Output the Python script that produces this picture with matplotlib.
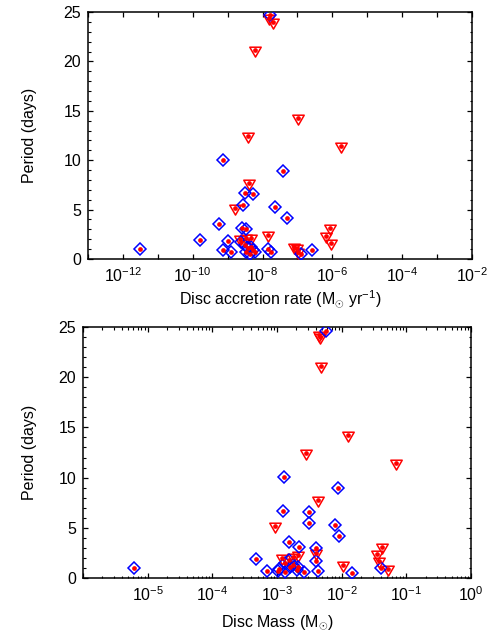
import numpy as np
import matplotlib
matplotlib.use("Agg")
import matplotlib.pyplot as plt
from matplotlib.path import Path
from matplotlib.ticker import FixedLocator, LogLocator, NullFormatter, FuncFormatter, MultipleLocator

plt.rcParams['font.family'] = ['Liberation Sans', 'DejaVu Sans']
plt.rcParams['mathtext.fontset'] = 'custom'
plt.rcParams['mathtext.rm'] = 'Liberation Sans'
plt.rcParams['mathtext.it'] = 'Liberation Sans'
plt.rcParams['mathtext.default'] = 'rm'

# ---- Top panel: disc accretion rate (log10 Msun/yr) vs period ----
acc_diam_log = [-11.52, -9.78, -9.24, -9.12, -8.98, -9.12, -8.90, -8.50, -8.26, -8.57,
                -7.65, -7.42, -7.31, -8.59, -8.48, -8.61, -8.51, -8.42, -8.32, -8.28,
                -8.23, -8.47, -8.37, -7.85, -7.77, -6.90, -6.57, -7.78]
acc_diam_P = [1.00, 1.95, 3.57, 10.03, 1.85, 0.94, 0.67, 6.66, 6.56, 5.48,
              5.25, 8.95, 4.14, 3.10, 3.03, 1.75, 1.42, 1.08, 1.25, 0.91,
              0.68, 0.74, 0.48, 0.98, 0.74, 0.47, 0.94, 24.66]
acc_tri_log = [-7.82, -7.70, -8.22, -6.98, -8.41, -5.76, -8.40, -8.78, -7.83, -6.08,
               -6.17, -6.03, -7.09, -7.01, -6.98, -8.66, -8.47, -8.32]
acc_tri_P = [24.40, 24.00, 21.13, 14.23, 12.45, 11.47, 7.74, 5.15, 2.46, 3.13,
             2.36, 1.62, 1.25, 1.08, 0.75, 2.02, 2.16, 2.09]

# ---- Bottom panel: disc mass (log10 Msun) vs period ----
mass_diam_log = [-5.21, -3.33, -3.15, -2.97, -2.89, -2.90, -2.82, -2.66, -2.50, -2.50,
                 -2.11, -2.05, -2.04, -2.40, -2.40, -2.37, -1.84, -1.39, -2.25, -2.87,
                 -2.82, -2.80, -2.75, -2.69, -2.67, -2.59, -2.87, -2.98]
mass_diam_P = [0.99, 1.92, 0.70, 0.86, 10.03, 6.66, 3.58, 3.05, 6.56, 5.50,
               5.23, 8.97, 4.14, 3.01, 1.66, 0.70, 0.50, 0.96, 24.57, 1.46,
               1.79, 1.13, 1.29, 0.80, 1.13, 0.63, 0.63, 0.73]
mass_tri_log = [-2.35, -2.33, -2.32, -1.90, -2.55, -1.16, -2.36, -3.03, -1.38, -1.46,
                -1.42, -1.98, -1.29, -2.93, -2.75, -2.67, -2.40]
mass_tri_P = [24.24, 24.00, 21.09, 14.24, 12.48, 11.42, 7.72, 5.13, 3.08, 2.42,
              1.66, 1.26, 0.89, 1.96, 2.12, 2.29, 2.46]

y_ticks = [0, 5, 10, 15, 20, 25]
acc_xlim = (1e-13, 1e-2)
acc_label_exps = [-12, -10, -8, -6, -4, -2]
mass_xlim = (1e-6, 1e0)
mass_label_exps = [-5, -4, -3, -2, -1, 0]

tri_marker = Path([(-1, 0.577), (1, 0.577), (0, -1.155), (-1, 0.577)],
                  [Path.MOVETO, Path.LINETO, Path.LINETO, Path.CLOSEPOLY])
BLUE = '#0000ff'
RED = '#ff0000'

fig = plt.figure(figsize=(5.03, 6.39), dpi=100)
ax1 = fig.add_axes([88/503, 1-259/639, (472-88)/503, (259-12)/639])
ax2 = fig.add_axes([83/503, 1-578/639, (471-83)/503, (578-327)/639])


def draw(ax, dl, dp, tl, tp):
    dx = 10.0 ** np.array(dl)
    tx = 10.0 ** np.array(tl)
    ax.plot(tx, tp, linestyle='none', marker=tri_marker, markersize=9.5,
            markerfacecolor='none', markeredgecolor=RED, markeredgewidth=1.1, zorder=3)
    ax.plot(dx, dp, linestyle='none', marker='D', markersize=6.3,
            markerfacecolor='none', markeredgecolor=BLUE, markeredgewidth=1.1, zorder=4)
    ax.plot(tx, tp, linestyle='none', marker='o', markersize=3.4,
            markerfacecolor=RED, markeredgecolor=RED, markeredgewidth=0, zorder=5)
    ax.plot(dx, dp, linestyle='none', marker='o', markersize=3.4,
            markerfacecolor=RED, markeredgecolor=RED, markeredgewidth=0, zorder=5)


def style(ax, ypad):
    ax.set_ylim(0, 25)
    ax.yaxis.set_major_locator(FixedLocator(y_ticks))
    ax.yaxis.set_minor_locator(MultipleLocator(1))
    ax.tick_params(which='both', direction='in', top=True, right=True, labelsize=11.5,
                   pad=5, color='black')
    ax.tick_params(which='major', length=3.5, width=0.9)
    ax.tick_params(which='minor', length=1.8, width=0.8)
    for s in ax.spines.values():
        s.set_linewidth(1.1)
        s.set_color('black')
    ax.set_ylabel('Period (days)', fontsize=11.5, labelpad=ypad)


def expfmt(labels):
    def f(v, pos):
        e = int(round(np.log10(v)))
        if e in labels:
            return r'$10^{%d}$' % e
        return ''
    return FuncFormatter(f)


draw(ax1, acc_diam_log, acc_diam_P, acc_tri_log, acc_tri_P)
ax1.set_xscale('log')
ax1.set_xlim(*acc_xlim)
ax1.xaxis.set_major_locator(FixedLocator([10.0 ** e for e in range(-13, -1)]))
ax1.xaxis.set_minor_locator(FixedLocator([]))
ax1.xaxis.set_major_formatter(expfmt(acc_label_exps))
style(ax1, 19)
ax1.set_xlabel(r'Disc accretion rate (M$_{\odot}$ yr$^{-1}$)', fontsize=11.5, labelpad=3)

draw(ax2, mass_diam_log, mass_diam_P, mass_tri_log, mass_tri_P)
ax2.set_xscale('log')
ax2.set_xlim(*mass_xlim)
ax2.xaxis.set_major_locator(FixedLocator([10.0 ** e for e in range(-6, 1)]))
ax2.xaxis.set_minor_locator(LogLocator(base=10, subs=np.arange(2, 10), numticks=20))
ax2.xaxis.set_minor_formatter(NullFormatter())
ax2.xaxis.set_major_formatter(expfmt(mass_label_exps))
style(ax2, 15)
ax2.set_xlabel(r'Disc Mass (M$_{\odot}$)', fontsize=11.5, labelpad=7)

fig.savefig('out.png', dpi=100)
